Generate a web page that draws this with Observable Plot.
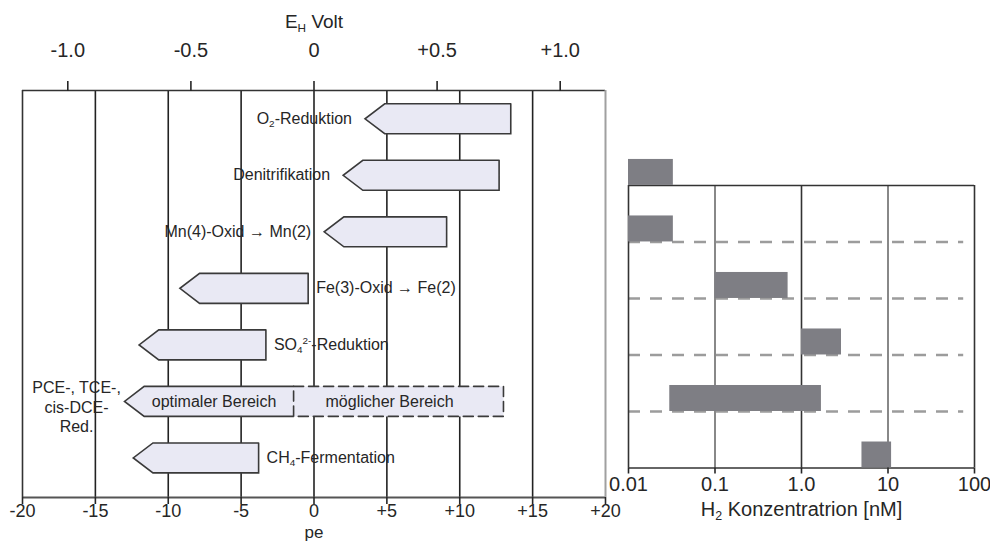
<!DOCTYPE html>
<html>
<head>
<meta charset="utf-8">
<script src="https://cdn.jsdelivr.net/npm/d3@7"></script>
<script src="https://cdn.jsdelivr.net/npm/@observablehq/plot@0.6"></script>
<style>
  html, body { margin: 0; padding: 0; background: #fff; }
  #chart { position: relative; width: 990px; height: 546px; overflow: hidden; }
  #chart svg { position: absolute; top: 0; }
</style>
</head>
<body>
<div id="chart"></div>
<script>
// Redox ladder: electron-accepting processes along the pe / EH scale
const processes = [
  "O_{2}-Reduktion",
  "Denitrifikation",
  "Mn(4)-Oxid → Mn(2)",
  "Fe(3)-Oxid → Fe(2)",
  "SO_{4}^{2-}-Reduktion",
  "PCE-, TCE-,\ncis-DCE-\nRed.",
  "CH_{4}-Fermentation"
];
const peLow  = [3.5, 2.0, 0.7, -9.2, -12.0, -13.0, -12.4];  // arrow tip
const peHigh = [13.5, 12.7, 9.1, -0.4, -3.3, 13.0, -3.8];   // right end
const dechlorRow = 5;
const peOptimalHigh = -1.4;                                  // end of the optimal range
const rangeLabels = ["optimaler Bereich", "möglicher Bereich"];

const peTicks = [-20, -15, -10, -5, 0, 5, 10, 15, 20];
const peGrid = [-15, -10, -5, 0, 5, 10, 15];
const voltTicks = [-1.0, -0.5, 0, 0.5, 1.0];
const voltLabels = ["-1.0", "-0.5", "0", "+0.5", "+1.0"];

// Typical dissolved hydrogen concentrations per process (nM)
const h2Rows = [1, 2, 3, 4, 5, 6];
const h2Low  = [0.01, 0.01, 0.1, 1.0, 0.03, 5];
const h2High = [0.033, 0.033, 0.7, 2.9, 1.7, 11];
const h2Ticks = [0.01, 0.1, 1, 10, 100];
const h2Labels = ["0.01", "0.1", "1.0", "10", "100"];

const NERNST = 0.0592;   // volts per pe unit (25 °C)
const HEAD = 1.35;       // arrow head length in pe units
const HALF = 0.265;      // half arrow thickness in row units
const FONT = "'Liberation Sans', Arial, sans-serif";
const INK = "#262626";

// Arrow outlines as closed polylines
const outline = [];
const dashed = [];
processes.forEach((label, i) => {
  const tip = peLow[i], start = tip + HEAD, top = i - HALF, bot = i + HALF;
  const right = i === dechlorRow ? peOptimalHigh : peHigh[i];
  const pts = [[right, top], [start, top], [tip, i], [start, bot], [right, bot]];
  if (i !== dechlorRow) pts.push([right, top]);
  pts.forEach(([x, y]) => outline.push({id: i, x, y}));
  if (i === dechlorRow) {
    [[right, top], [peHigh[i], top], [peHigh[i], bot], [right, bot], [right, top]]
      .forEach(([x, y]) => dashed.push({id: i, x, y}));
  }
});

const rows = processes.map((label, i) => ({i, label, lo: peLow[i], hi: peHigh[i]}));
const leftLabelled = rows.filter(r => r.i !== dechlorRow && r.hi >= 0);
const rightLabelled = rows.filter(r => r.i !== dechlorRow && r.hi < 0);
const dechlor = rows.filter(r => r.i === dechlorRow);

const voltAt = new Map(voltTicks.map((v, k) => [v / NERNST, voltLabels[k]]));

const ladder = Plot.plot({
  width: 630, height: 546,
  marginLeft: 22, marginRight: 25, marginTop: 90, marginBottom: 49,
  style: {fontFamily: FONT, color: INK, background: "transparent", overflow: "visible"},
  x: {domain: [-20, 20]},
  y: {domain: [-0.5, 6.7], reverse: true, axis: null},
  marks: [
    Plot.ruleX(peGrid, {y1: -0.5, y2: 6.7, stroke: "#222", strokeWidth: 1.6}),
    Plot.ruleY([-0.5], {x1: -20, x2: 20, stroke: "#333", strokeWidth: 1.6}),
    Plot.ruleY([6.7], {x1: -20, x2: 20, stroke: "#555", strokeWidth: 2}),
    Plot.ruleX([-20], {y1: -0.5, y2: 6.7, stroke: "#333", strokeWidth: 1.6}),
    Plot.ruleX([20], {y1: -0.5, y2: 6.7, stroke: "#a0a0a0", strokeWidth: 2}),
    Plot.line(outline, {x: "x", y: "y", z: "id", fill: "#e9e9f4", stroke: "#3a3a3a",
      strokeWidth: 1.6, strokeLinejoin: "miter", strokeMiterlimit: 10}),
    Plot.line(dashed, {x: "x", y: "y", z: "id", fill: "#e9e9f4", stroke: "#3a3a3a",
      strokeWidth: 1.6, strokeDasharray: "10,5", strokeLinejoin: "miter"}),
    Plot.text(leftLabelled, {x: "lo", y: "i", text: "label", textAnchor: "end", dx: -13, fontSize: 16, fill: INK}),
    Plot.text(rightLabelled, {x: "hi", y: "i", text: "label", textAnchor: "start", dx: 8, fontSize: 16, fill: INK}),
    Plot.text(dechlor, {x: "lo", y: "i", text: "label", textAnchor: "middle", dx: -48, dy: 5,
      lineHeight: 1.22, fontSize: 16, fill: INK}),
    Plot.text(dechlor, {x: d => (d.lo + peOptimalHigh) / 2, y: "i", text: () => rangeLabels[0],
      dx: 5, fontSize: 16, fill: INK}),
    Plot.text(dechlor, {x: d => (peOptimalHigh + d.hi) / 2, y: "i", text: () => rangeLabels[1],
      dx: -9, fontSize: 16, fill: INK}),
    Plot.axisX([...voltAt.keys()], {anchor: "top", tickSize: 10, tickPadding: 24,
      tickFormat: d => voltAt.get(d), fontSize: 20, label: null, strokeWidth: 1.6}),
    Plot.axisX(peTicks, {anchor: "bottom", tickSize: 7, tickPadding: 0,
      tickFormat: d => d > 0 ? `+${d}` : `${d}`, fontSize: 18, label: null, strokeWidth: 1.6}),
    Plot.text([0], {x: d => d, text: () => "E_{H} Volt", frameAnchor: "top", dy: -76, fontSize: 19, fill: INK}),
    Plot.text([0], {x: d => d, text: () => "pe", frameAnchor: "bottom", dy: 40, fontSize: 17, fill: INK})
  ]
});

// Hydrogen concentration panel, rows aligned with the ladder
const h2Bars = h2Rows.map((row, k) => ({row, lo: h2Low[k], hi: h2High[k]}));
const lineAt = h2Rows.map(r => r + 0.18);

const hydrogen = Plot.plot({
  width: 410, height: 546,
  marginLeft: 48, marginRight: 16, marginTop: 90, marginBottom: 78.5,
  style: {fontFamily: FONT, color: INK, background: "transparent", overflow: "visible"},
  x: {type: "log", domain: [0.01, 100]},
  y: {domain: [-0.5, 6.18], reverse: true, axis: null},
  marks: [
    Plot.ruleY(lineAt.slice(1, -1), {x1: 0.01, x2: 75, stroke: "#9c9c9c", strokeWidth: 2.5, strokeDasharray: "12,10"}),
    Plot.ruleX([0.1, 10], {y1: lineAt[0], y2: lineAt[lineAt.length - 1], stroke: "#888", strokeWidth: 2}),
    Plot.ruleX([0.01, 1, 100], {y1: lineAt[0], y2: lineAt[lineAt.length - 1], stroke: "#333", strokeWidth: 1.6}),
    Plot.ruleY([lineAt[0], lineAt[lineAt.length - 1]], {x1: 0.01, x2: 100, stroke: "#333", strokeWidth: 1.6}),
    Plot.rect(h2Bars, {x1: "lo", x2: "hi", y1: d => d.row - 0.28, y2: d => d.row + 0.18, fill: "#7e7e84"}),
    Plot.axisX(h2Ticks, {anchor: "bottom", tickSize: 6, tickPadding: 3,
      tickFormat: (d) => h2Labels[h2Ticks.indexOf(d)], fontSize: 20, label: null, strokeWidth: 1.6}),
    Plot.text([1], {x: d => d, text: () => "H_{2} Konzentratrion [nM]", frameAnchor: "bottom", dy: 48, fontSize: 20, fill: INK})
  ]
});

// Turn _{…} and ^{…} markup into sub- and superscript tspans
function richText(svg) {
  const NS = "http://www.w3.org/2000/svg";
  svg.querySelectorAll("text, tspan").forEach(el => {
    if (el.children.length) return;
    const s = el.textContent;
    if (!/[_^]\{/.test(s)) return;
    el.textContent = "";
    const re = /([_^])\{([^}]*)\}/g;
    let last = 0, m;
    const add = (str, shift) => {
      const t = document.createElementNS(NS, "tspan");
      t.textContent = str;
      if (shift) {
        t.setAttribute("baseline-shift", shift);
        t.setAttribute("font-size", "62%");
      }
      el.appendChild(t);
    };
    while ((m = re.exec(s))) {
      if (m.index > last) add(s.slice(last, m.index));
      add(m[2], m[1] === "_" ? "-0.3em" : "0.6em");
      last = re.lastIndex;
    }
    if (last < s.length) add(s.slice(last));
  });
}
richText(ladder);
richText(hydrogen);

ladder.style.left = "0px";
hydrogen.style.left = "580px";
const chart = document.getElementById("chart");
chart.append(ladder, hydrogen);
</script>
</body>
</html>
